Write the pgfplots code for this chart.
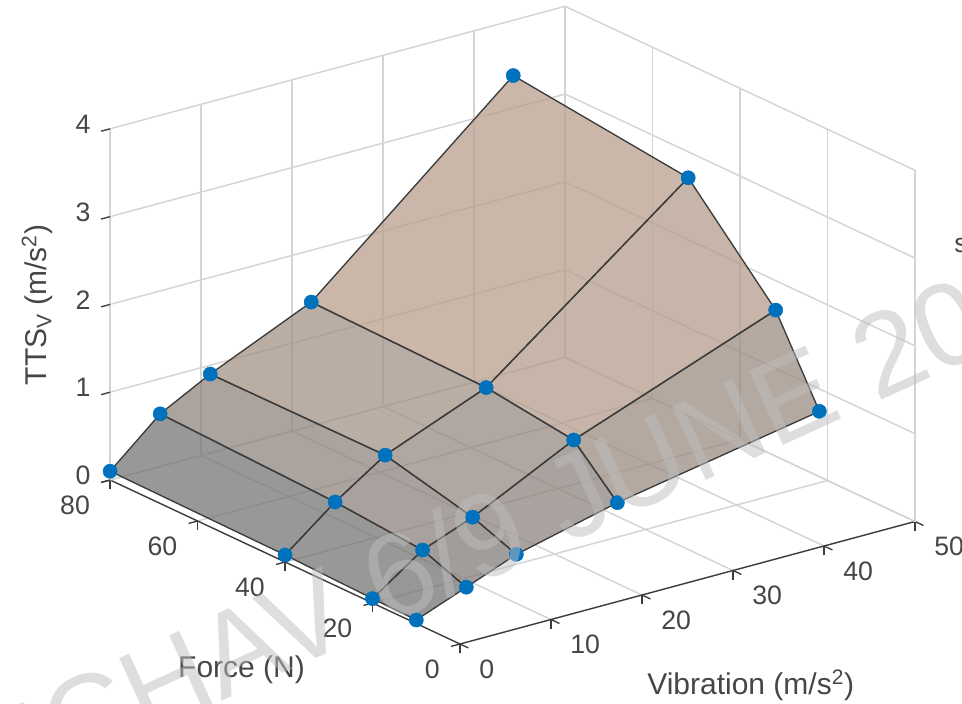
\documentclass[border=0pt]{standalone}
\usepackage{pgfplots}
\usepackage{fontspec}
\setmainfont{Liberation Sans}
\pgfplotsset{compat=1.18}
\definecolor{ink}{RGB}{60,60,60}
\definecolor{txt}{RGB}{70,70,70}
\definecolor{gridc}{RGB}{212,212,212}
\definecolor{mblue}{RGB}{0,114,189}
\definecolor{wm}{RGB}{190,190,190}
\pgfplotstableread{
v F z
0 10 0.04
5.5 10 0.26
11 10 0.48
22.1 10 0.76
44.3 10 1.18
0 20 0.05
5.5 20 0.45
11 20 0.67
22.1 20 1.24
44.3 20 2.10
0 40 0.08
5.5 40 0.53
11 40 0.91
22.1 40 1.37
44.3 40 3.14
0 80 0.10
5.5 80 0.60
11 80 0.90
22.1 80 1.41
44.3 80 3.37
}\datatable
\begin{document}
\begin{tikzpicture}
\useasboundingbox (0pt,0pt) rectangle (721.5pt,527.25pt);
\clip (0pt,0pt) rectangle (721.5pt,527.25pt);
\begin{axis}[
  at={(345pt,44.25pt)}, anchor=origin,
  x={(6.825pt,1.8375pt)}, y={(-3.28pt,1.5375pt)}, z={(0pt,65.85pt)},
  xmin=0,xmax=50,ymin=0,ymax=80,zmin=0,zmax=4,
  xtick={0,10,...,50}, ytick={0,20,...,80}, ztick={0,1,...,4},
  axis x line*=bottom, axis y line*=left, axis z line*=left,
  grid=major, major grid style={gridc,line width=1.1pt},
  axis line style={ink,line width=1pt},
  tick style={ink,line width=1pt},
  tick align=outside, major tick length=7pt,
  /pgf/number format/assume math mode=true,
  tick label style={font=\fontsize{20}{22}\selectfont,text=txt},
  xticklabel style={anchor=west,inner sep=0pt,xshift=8pt,yshift=-15.75pt},
  yticklabel style={anchor=east,inner sep=0pt,xshift=-8.25pt,yshift=-17pt},
  zticklabel style={anchor=center,xshift=-14pt,yshift=0.5pt},
  xlabel={Vibration (m/s\textsuperscript{2})}, ylabel={Force (N)}, zlabel={TTS\textsubscript{V} (m/s\textsuperscript{2})},
  label style={font=\fontsize{22.5}{24}\selectfont,text=txt},
  xlabel style={xshift=4.5pt,yshift=-9.5pt},
  ylabel style={xshift=16pt,yshift=-17pt},
  zlabel style={xshift=-4.5pt,yshift=9pt},
  colormap={tan}{rgb255=(115,115,115) rgb255=(186,159,142)},
  point meta min=0, point meta max=1.35,
  clip=false,
]
\addplot3[surf,shader=flat corner,opacity=0.75,mesh/rows=4,mesh/cols=5,draw=none] table[x=v,y=F,z=z]{\datatable};
\addplot3[only marks,mark=*,mark size=5.3pt,mblue,mark options={draw=mblue,fill=mblue}] table[x=v,y=F,z=z]{\datatable};
\addplot3[mesh,mesh/rows=4,mesh/cols=5,line width=1pt,colormap={k}{color=(ink) color=(ink)}] table[x=v,y=F,z=z]{\datatable};
\end{axis}
\node[rotate=24.5,anchor=base east,inner sep=0pt,text=wm,text opacity=0.5,font=\fontsize{88.5}{90}\selectfont] at (747pt,266pt) {ICHAV 6/9 JUNE 20};
\node[anchor=west,inner sep=0pt,text=txt,font=\fontsize{20}{22}\selectfont] at (715.5pt,343.5pt) {s};
\end{tikzpicture}
\end{document}
